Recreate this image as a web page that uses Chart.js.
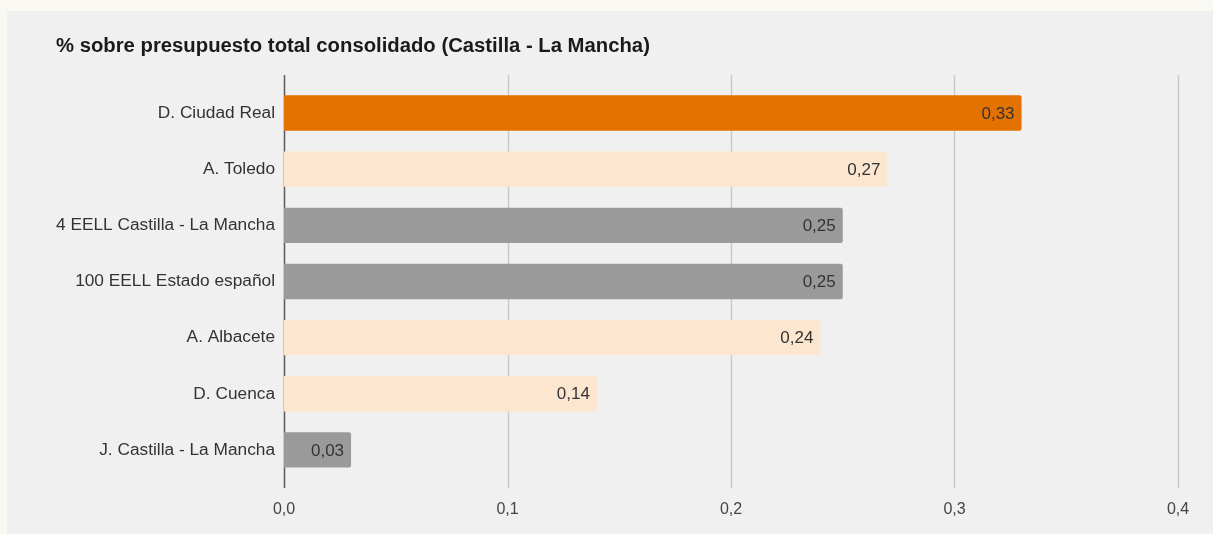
<!DOCTYPE html>
<html>
<head>
<meta charset="utf-8">
<script src="https://cdn.jsdelivr.net/npm/chart.js@4.4.1/dist/chart.umd.min.js"></script>
<style>
html,body{margin:0;padding:0;background:#f9f8f3;}
#wrap{position:absolute;left:0;top:0;width:1213px;height:534px;}
</style>
</head>
<body>
<div id="wrap"><canvas id="c" width="1213" height="534"></canvas></div>
<script>
const categories = ['D. Ciudad Real','A. Toledo','4 EELL Castilla - La Mancha','100 EELL Estado español','A. Albacete','D. Cuenca','J. Castilla - La Mancha'];
const values = [0.33, 0.27, 0.25, 0.25, 0.24, 0.14, 0.03];
const barColors = ['#e37200','#fde6d0','#9a9a9a','#9a9a9a','#fde6d0','#fde6d0','#9a9a9a'];
const xTickLabels = ['0,0','0,1','0,2','0,3','0,4'];
const titleText = '% sobre presupuesto total consolidado (Castilla - La Mancha)';

const FONT = "'Liberation Sans', Arial, sans-serif";

const bgPlugin = {
  id: 'bg',
  beforeDraw(chart) {
    const ctx = chart.ctx;
    ctx.save();
    ctx.fillStyle = '#f9f8f3';
    ctx.fillRect(0, 0, chart.width, chart.height);
    ctx.fillStyle = '#f0f0f0';
    ctx.fillRect(7, 11, chart.width - 7, chart.height - 11);
    ctx.restore();
  }
};

const gridPlugin = {
  id: 'grid',
  beforeDatasetsDraw(chart) {
    const ctx = chart.ctx, xs = chart.scales.x, a = chart.chartArea;
    ctx.save();
    xs.ticks.forEach((t, i) => {
      const px = Math.round(xs.getPixelForValue(t.value)) + 0.5;
      ctx.beginPath();
      ctx.lineWidth = 1.5;
      ctx.strokeStyle = i === 0 ? '#5a5a5a' : '#c9c9c9';
      ctx.moveTo(px, a.top - 10);
      ctx.lineTo(px, a.bottom + 10);
      ctx.stroke();
    });
    ctx.restore();
  }
};

const labelPlugin = {
  id: 'vlabels',
  afterDatasetsDraw(chart) {
    const ctx = chart.ctx;
    const meta = chart.getDatasetMeta(0);
    ctx.save();
    ctx.font = '17px ' + FONT;
    ctx.fillStyle = '#333333';
    ctx.textAlign = 'right';
    ctx.textBaseline = 'middle';
    meta.data.forEach((bar, i) => {
      ctx.fillText(values[i].toFixed(2).replace('.', ','), bar.x - 7, bar.y + 1);
    });
    ctx.restore();
  }
};

new Chart(document.getElementById('c'), {
  type: 'bar',
  data: {
    labels: categories,
    datasets: [{
      data: values,
      backgroundColor: barColors,
      borderRadius: 2,
      borderSkipped: 'start',
      barPercentage: 0.63,
      categoryPercentage: 1
    }]
  },
  plugins: [bgPlugin, gridPlugin, labelPlugin],
  options: {
    indexAxis: 'y',
    responsive: false,
    animation: false,
    layout: { padding: { left: 56, right: 35, top: 34, bottom: 16 } },
    plugins: {
      legend: { display: false },
      tooltip: { enabled: false },
      title: {
        display: true,
        text: titleText,
        align: 'start',
        color: '#1a1a1a',
        font: { family: FONT, size: 20.3, weight: 'bold', lineHeight: 1.2 },
        padding: { top: 0, bottom: 26.6 }
      }
    },
    scales: {
      x: {
        min: 0, max: 0.4,
        ticks: {
          stepSize: 0.1,
          padding: 22,
          color: '#444444',
          font: { family: FONT, size: 16 },
          callback: (v, i) => xTickLabels[i]
        },
        grid: { display: false, drawTicks: false },
        border: { display: false },
        afterFit: s => { s.height = 40; }
      },
      y: {
        ticks: {
          padding: 9,
          color: '#333333',
          font: { family: FONT, size: 17.3 }
        },
        grid: { display: false, drawTicks: false },
        border: { display: false },
        afterFit: s => { s.width = 228; }
      }
    }
  }
});
</script>
</body>
</html>
